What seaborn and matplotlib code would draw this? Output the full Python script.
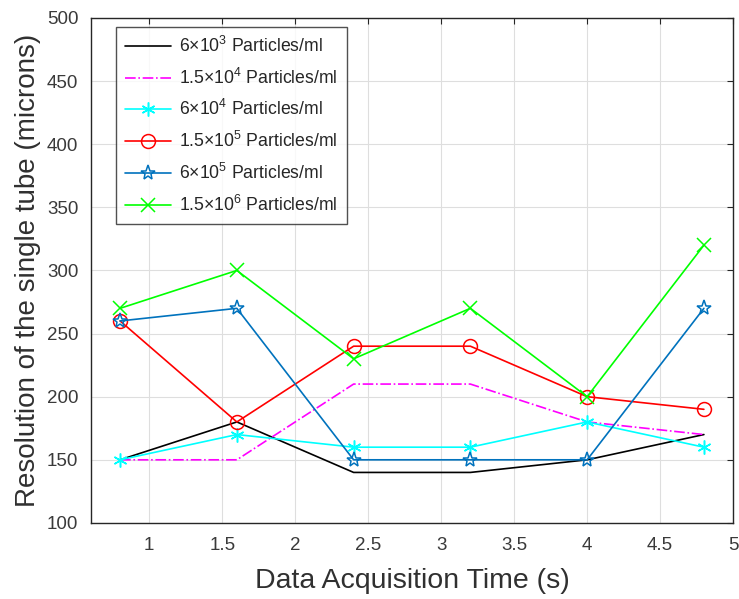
import matplotlib
matplotlib.use("Agg")
import matplotlib.pyplot as plt
import seaborn as sns
import pandas as pd

time_s = [0.8, 1.6, 2.4, 3.2, 4.0, 4.8]
labels = [r"6×10$^{3}$ Particles/ml", r"1.5×10$^{4}$ Particles/ml", r"6×10$^{4}$ Particles/ml",
          r"1.5×10$^{5}$ Particles/ml", r"6×10$^{5}$ Particles/ml", r"1.5×10$^{6}$ Particles/ml"]
res_6e3 = [150, 180, 140, 140, 150, 170]
res_1_5e4 = [150, 150, 210, 210, 180, 170]
res_6e4 = [150, 170, 160, 160, 180, 160]
res_1_5e5 = [260, 180, 240, 240, 200, 190]
res_6e5 = [260, 270, 150, 150, 150, 270]
res_1_5e6 = [270, 300, 230, 270, 200, 320]
series = [res_6e3, res_1_5e4, res_6e4, res_1_5e5, res_6e5, res_1_5e6]

sns.set_style("white")
plt.rcParams['font.family'] = ['Liberation Sans', 'DejaVu Sans']
plt.rcParams['mathtext.fontset'] = 'custom'
plt.rcParams['mathtext.rm'] = 'Liberation Sans'
plt.rcParams['mathtext.it'] = 'Liberation Sans'

colors = ['#000000', '#FF00FF', '#00FFFF', '#FF0000', '#0072BD', '#00FF00']
styles = ['-', '-.', '-', '-', '-', '-']
markers = [None, None, (6, 2, 0), 'o', '*', 'x']
msizes = [0, 0, 10, 10, 11, 10]

fig = plt.figure(figsize=(7.39, 5.99), dpi=100)
ax = fig.add_axes([0.123, 0.127, 0.869, 0.843])

for vals, lab, c, ls, m, ms in zip(series, labels, colors, styles, markers, msizes):
    df = pd.DataFrame({'t': time_s, 'r': vals})
    kw = dict(marker=m, markersize=ms, markerfacecolor='none', markeredgecolor=c, markeredgewidth=1.1) if m is not None else {}
    sns.lineplot(data=df, x='t', y='r', ax=ax, color=c, linestyle=ls, linewidth=1.2, label=lab, **kw)

ax.set_xlim(0.6, 5)
ax.set_ylim(100, 500)
ax.set_xticks([1, 1.5, 2, 2.5, 3, 3.5, 4, 4.5, 5])
ax.set_xticklabels(['1', '1.5', '2', '2.5', '3', '3.5', '4', '4.5', '5'])
ax.set_yticks(range(100, 501, 50))
ax.grid(True, color='#DEDEDE', linewidth=0.8)
for s in ax.spines.values():
    s.set_color('#262626')
    s.set_linewidth(1.0)
ax.tick_params(direction='in', length=4, labelsize=13.5, colors='#262626', labelcolor='#3a3a3a',
               top=True, right=True, labeltop=False, labelright=False)
ax.tick_params(axis='x', pad=10)
ax.tick_params(axis='y', pad=9)
ax.set_xlabel('Data Acquisition Time (s)', fontsize=20.5, color='#303030', labelpad=10)
ax.set_ylabel('Resolution of the single tube (microns)', fontsize=20, color='#303030', labelpad=4)

leg = ax.legend(loc='upper left', bbox_to_anchor=(0.039, 0.982), borderaxespad=0, fontsize=12.7,
                frameon=True, fancybox=False, edgecolor='#262626', handlelength=2.6,
                labelspacing=0.66, borderpad=0.5, handletextpad=0.5)
leg.get_frame().set_linewidth(1.0)

fig.savefig('out.png', dpi=100)
